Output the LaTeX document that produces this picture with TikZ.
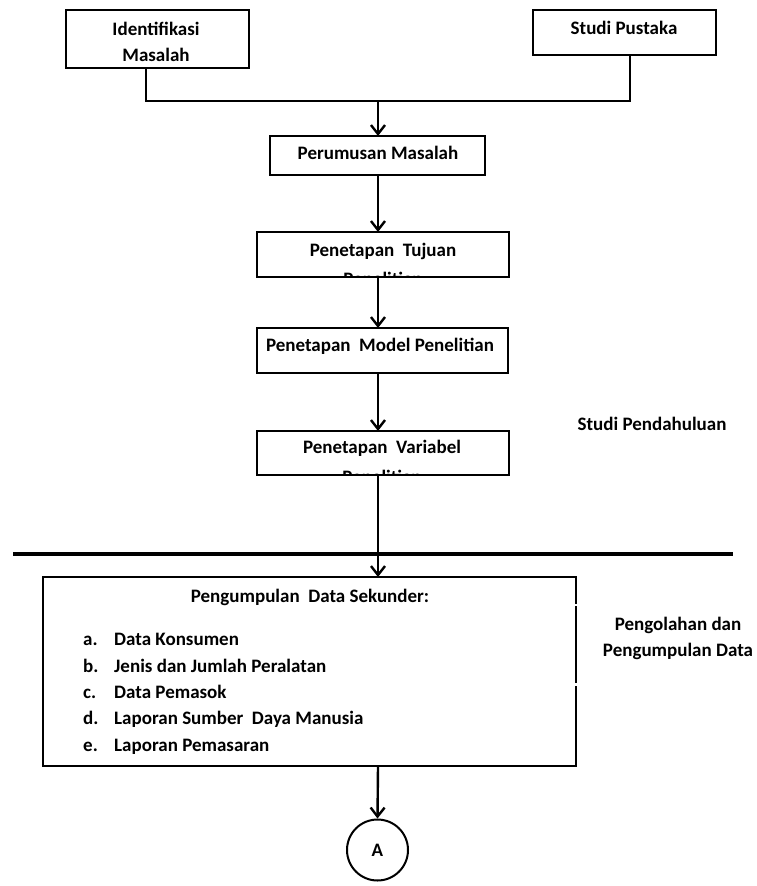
\documentclass[tikz,border=0pt]{standalone}
\usepackage{fontspec}
\setmainfont{Carlito}[BoldFont={Carlito Bold}]
\usetikzlibrary{arrows.meta}
\begin{document}
\begin{tikzpicture}[x=1pt,y=-1pt,
  font=\fontsize{19}{26}\selectfont\bfseries,
  box/.style={draw, line width=1.6pt, inner sep=0pt, outer sep=0pt},
  txt/.style={inner sep=0pt, align=center},
  conn/.style={line width=2.4pt, line join=miter},
  arr/.style={conn, -{Straight Barb[length=9pt,width=14pt]}}]
\useasboundingbox (0,0) rectangle (756,886);

% boxes
\node[box, minimum width=183pt, minimum height=58pt] (ident) at (157.5,39) {};
\node[box, minimum width=183pt, minimum height=45pt] (studi) at (624.5,32.5) {};
\node[box, minimum width=215pt, minimum height=39pt] (perum) at (377.5,155.5) {};
\node[box, minimum width=252pt, minimum height=45pt] (tujuan) at (383,254.5) {};
\node[box, minimum width=251pt, minimum height=45pt] (model) at (382.5,350.5) {};
\node[box, minimum width=252pt, minimum height=44pt] (variabel) at (383,453) {};
\node[box, minimum width=533pt, minimum height=189pt] (kumpul) at (309.5,671.5) {};
\node[draw, circle, line width=2pt, minimum size=61pt, inner sep=0pt] (A) at (377.5,850) {A};

% box texts (second lines overflow the box and are cut at its lower edge)
\node[txt] (identT) at (156,42) {Identifikasi\\Masalah};
\node[txt] (studiT) at (624,28) {Studi Pustaka};
\node[txt] (perumT) at (378,153) {Perumusan Masalah};
\node[txt] (tujuanT) at (383,251) {Penetapan\ \ Tujuan};
\node[txt] (modelT) at (380,346) {Penetapan\ \ Model Penelitian};
\node[txt] (variabelT) at (382,448) {Penetapan\ \ Variabel};
\begin{scope}
  \clip (tujuan.north west) rectangle (tujuan.south east);
  \node[txt, anchor=base] (tujuanT2) at (383,285) {Penelitian};
\end{scope}
\begin{scope}
  \clip (variabel.north west) rectangle (variabel.south east);
  \node[txt, anchor=base] (variabelT2) at (382,483) {Penelitian};
\end{scope}

% list of secondary data
\node[txt] (kumpulT) at (310,597) {Pengumpulan\ \ Data Sekunder:};
\foreach \y/\l/\t [count=\i] in {645/a./Data Konsumen, 672/b./Jenis dan Jumlah Peralatan,
    698/c./Data Pemasok, 724/d./Laporan Sumber\ \ Daya Manusia, 751/e./Laporan Pemasaran}{
  \node[txt, anchor=base west] (lbl\i) at (83,\y) {\l};
  \node[txt, anchor=base west] (item\i) at (114,\y) {\t};
}
% small breaks in the right border
\fill[white] (574,603.5) rectangle (578,606);
\fill[white] (574,683) rectangle (578,685.5);

% side labels
\node[txt] (fase1) at (652,424) {Studi Pendahuluan};
\node[txt] (fase2) at (678,638) {Pengolahan dan\\Pengumpulan Data};

% separator
\coordinate (sepL) at (13,554);
\coordinate (sepR) at (733,554);
\draw[line width=3.2pt] (sepL) -- (sepR);

% connectors
\coordinate (merge) at (378,101);
\draw[conn] ([xshift=-11.5pt]ident.south) |- (merge);
\draw[conn] ([xshift=5.5pt]studi.south) |- (merge);
\draw[arr] (merge) -- (merge |- perum.north);
\draw[arr] (merge |- perum.south) -- (merge |- tujuan.north);
\draw[arr] (merge |- tujuan.south) -- (merge |- model.north);
\draw[arr] (merge |- model.south) -- (merge |- variabel.north);
\draw[arr] (merge |- variabel.south) -- (merge |- kumpul.north);
\draw[arr] (merge |- kumpul.south) -- (A.north);
\end{tikzpicture}
\end{document}
